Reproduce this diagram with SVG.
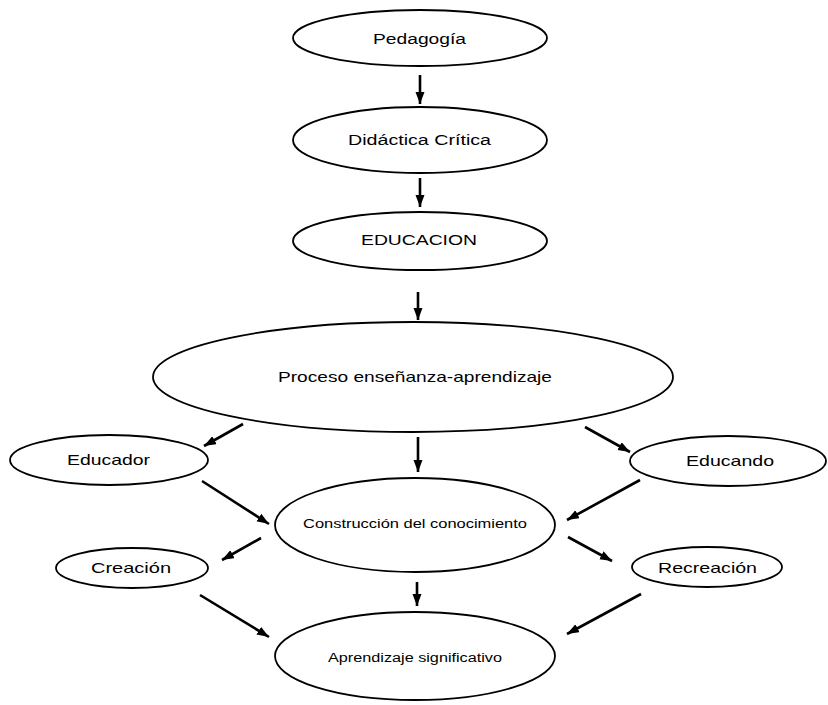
<svg xmlns="http://www.w3.org/2000/svg" width="828" height="705" viewBox="0 0 828 705">
<style>
.n ellipse{fill:#fff;stroke:#000;stroke-width:1.8}
.n text{font-family:"Liberation Sans",Arial,sans-serif;fill:#000;text-anchor:middle}
.c line{stroke:#000;stroke-width:2.6;marker-end:url(#ah)}
</style>
<defs>
<marker id="ah" markerUnits="userSpaceOnUse" markerWidth="14" markerHeight="10" refX="12" refY="4.5" orient="auto">
<path d="M0,0 L12,4.5 L0,9 Z" fill="#000"/>
</marker>
</defs>
<rect width="828" height="705" fill="#fff"/>
<g id="n-pedagogia" class="n"><ellipse cx="420" cy="38" rx="127" ry="28"/><text x="419.5" y="44" font-size="14" textLength="93" lengthAdjust="spacingAndGlyphs">Pedagogía</text></g>
<g id="n-didactica" class="n"><ellipse cx="420" cy="140" rx="127" ry="33"/><text x="419.5" y="145" font-size="14" textLength="143" lengthAdjust="spacingAndGlyphs">Didáctica Crítica</text></g>
<g id="n-educacion" class="n"><ellipse cx="420" cy="241" rx="127" ry="29"/><text x="419" y="245" font-size="14" textLength="116" lengthAdjust="spacingAndGlyphs">EDUCACION</text></g>
<g id="n-proceso" class="n"><ellipse cx="413" cy="377" rx="260" ry="55"/><text x="415" y="382" font-size="15" textLength="274" lengthAdjust="spacingAndGlyphs">Proceso enseñanza-aprendizaje</text></g>
<g id="n-educador" class="n"><ellipse cx="109" cy="460" rx="99" ry="25"/><text x="108.5" y="465" font-size="15" textLength="83" lengthAdjust="spacingAndGlyphs">Educador</text></g>
<g id="n-educando" class="n"><ellipse cx="728" cy="461" rx="98" ry="25"/><text x="730" y="466" font-size="15" textLength="88" lengthAdjust="spacingAndGlyphs">Educando</text></g>
<g id="n-construccion" class="n"><ellipse cx="415" cy="525" rx="140" ry="47"/><text x="415" y="528" font-size="13" textLength="224" lengthAdjust="spacingAndGlyphs">Construcción del conocimiento</text></g>
<g id="n-creacion" class="n"><ellipse cx="132" cy="568" rx="76" ry="20"/><text x="131" y="573" font-size="15" textLength="80" lengthAdjust="spacingAndGlyphs">Creación</text></g>
<g id="n-recreacion" class="n"><ellipse cx="707" cy="567" rx="75" ry="20"/><text x="707.5" y="573" font-size="15" textLength="99" lengthAdjust="spacingAndGlyphs">Recreación</text></g>
<g id="n-aprendizaje" class="n"><ellipse cx="415" cy="656" rx="140" ry="44"/><text x="415" y="662" font-size="12" textLength="174" lengthAdjust="spacingAndGlyphs">Aprendizaje significativo</text></g>
<g id="connectors" class="c">
<line x1="420" y1="75" x2="420" y2="104"/>
<line x1="420" y1="178" x2="420" y2="207"/>
<line x1="418" y1="292" x2="418" y2="320"/>
<line x1="243" y1="424" x2="204" y2="446"/>
<line x1="418" y1="437" x2="418" y2="472"/>
<line x1="585" y1="427" x2="630" y2="452"/>
<line x1="202" y1="481" x2="269" y2="524"/>
<line x1="640" y1="480" x2="567" y2="520"/>
<line x1="261" y1="538" x2="222" y2="560"/>
<line x1="568" y1="537" x2="612" y2="561"/>
<line x1="417" y1="582" x2="417" y2="606"/>
<line x1="200" y1="595" x2="269" y2="637"/>
<line x1="641" y1="594" x2="567" y2="634"/>
</g>
</svg>
